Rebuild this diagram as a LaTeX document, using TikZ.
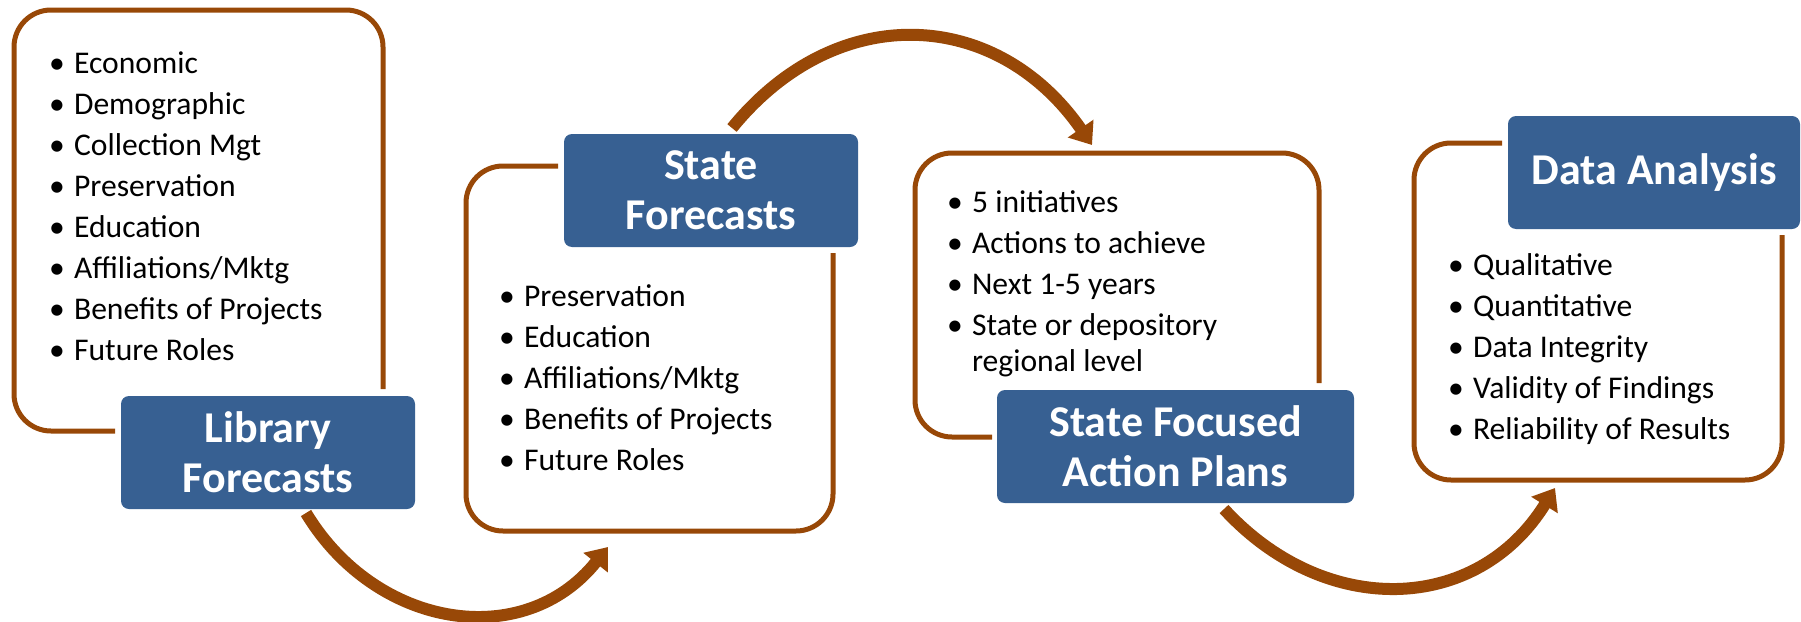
\documentclass[tikz,border=0pt]{standalone}
\usepackage{fontspec}
\setmainfont{Carlito}
\usetikzlibrary{arrows.meta}
\definecolor{hdrblue}{HTML}{376092}
\definecolor{rust}{HTML}{984807}
\newcommand{\bitem}{\makebox[24.9pt][l]{•}}
\tikzset{
  frame/.style={draw=rust, line width=5pt, rounded corners=37pt},
  hdr/.style={fill=hdrblue, rounded corners=8pt, text=white,
    font=\fontsize{44}{50}\selectfont\bfseries, align=center, inner sep=0pt,
    minimum height=113pt},
  body/.style={anchor=base west, inner sep=0pt,
    font=\fontsize{31.6}{41}\selectfont, text=black},
  flow/.style={draw=rust, line width=12pt, -{Triangle[length=20pt,width=30pt]}},
}
\begin{document}
\begin{tikzpicture}[x=1pt,y=-1pt]
\useasboundingbox (0,0) rectangle (1801,621);
% frames (open where the headers sit)
\draw[frame] (115,431) -- (14,431) -- (14,10) -- (383,10) -- (383,389);
\draw[frame] (558,166) -- (466,166) -- (466,531) -- (833,531) -- (833,253);
\draw[frame] (992,437) -- (915,437) -- (915,153) -- (1319,153) -- (1319,383);
\draw[frame] (1502,143) -- (1414,143) -- (1414,480) -- (1782,480) -- (1782,235);
% headers
\node[hdr, minimum width=294pt] (b1) at (268,452.5) {Library\\Forecasts};
\node[hdr, minimum width=294pt] (b2) at (711,190.5) {State\\Forecasts};
\node[hdr, minimum width=357pt] (b3) at (1175.5,446.5) {State Focused\\Action Plans};
\node[hdr, minimum width=292pt] (b4) at (1654,172.5) {Data Analysis};
% bullet lists
\node[body] (t1) at (49,73) {\begin{tabular}[t]{@{}l@{}l@{}}
\bitem&Economic\\ \bitem&Demographic\\ \bitem&Collection Mgt\\ \bitem&Preservation\\
\bitem&Education\\ \bitem&Affiliations/Mktg\\ \bitem&Benefits of Projects\\ \bitem&Future Roles
\end{tabular}};
\node[body] (t2) at (499,306) {\begin{tabular}[t]{@{}l@{}l@{}}
\bitem&Preservation\\ \bitem&Education\\ \bitem&Affiliations/Mktg\\ \bitem&Benefits of Projects\\ \bitem&Future Roles
\end{tabular}};
\node[body] (t3) at (947,212) {\begin{tabular}[t]{@{}l@{}l@{}}
\bitem&5 initiatives\\ \bitem&Actions to achieve\\ \bitem&Next 1-5 years\\ \bitem&State or depository\\[-5pt]
&regional level
\end{tabular}};
\node[body] (t4) at (1448,275) {\begin{tabular}[t]{@{}l@{}l@{}}
\bitem&Qualitative\\ \bitem&Quantitative\\ \bitem&Data Integrity\\ \bitem&Validity of Findings\\ \bitem&Reliability of Results
\end{tabular}};
% connector ends
\coordinate (a1s) at (306,513);
\coordinate (a1e) at (608,547);
\coordinate (a2s) at (732,128);
\coordinate (a2e) at (1092,145);
\coordinate (a3s) at (1224,509);
\coordinate (a3e) at (1555,488);
\draw[flow] (a1s) .. controls (376,629) and (524,652) .. (a1e);
\draw[flow] (a2s) .. controls (837,-1) and (997,8) .. (a2e);
\draw[flow] (a3s) .. controls (1325,619) and (1477,614) .. (a3e);
\end{tikzpicture}
\end{document}
